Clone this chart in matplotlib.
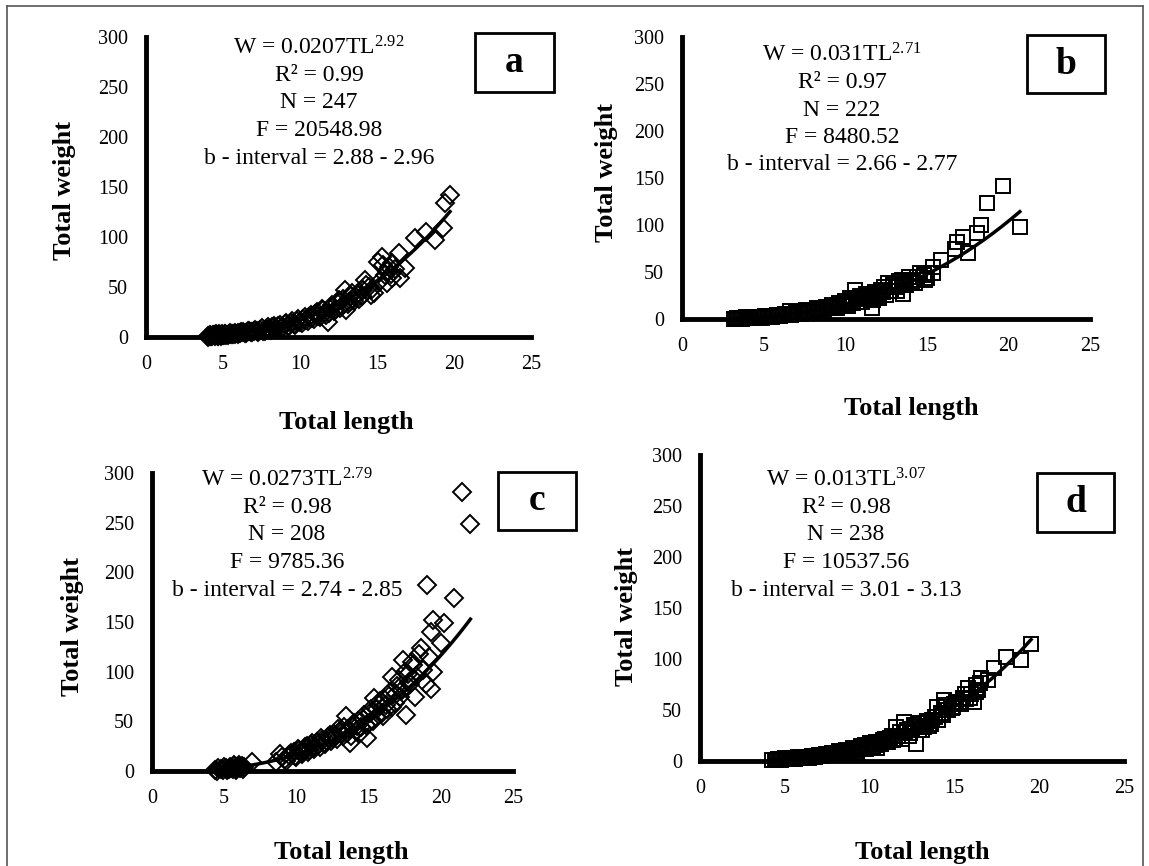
import matplotlib
matplotlib.use('Agg')
import matplotlib.pyplot as plt
from matplotlib.patches import Rectangle
from matplotlib.lines import Line2D
import numpy as np

plt.rcParams['font.family'] = ['Liberation Serif', 'DejaVu Serif']
plt.rcParams['mathtext.fontset'] = 'custom'
plt.rcParams['mathtext.rm'] = 'Liberation Serif'
plt.rcParams['mathtext.it'] = 'Liberation Serif:italic'
plt.rcParams['mathtext.bf'] = 'Liberation Serif:bold'

# ---------------- data ----------------
panel_labels = ['a', 'b', 'c', 'd']
coef_a = [0.0207, 0.031, 0.0273, 0.013]
coef_b = [2.92, 2.71, 2.79, 3.07]
r2_vals = [0.99, 0.97, 0.98, 0.98]
n_vals = [247, 222, 208, 238]
f_vals = [20548.98, 8480.52, 9785.36, 10537.56]
b_low = [2.88, 2.66, 2.74, 3.01]
b_high = [2.96, 2.77, 2.85, 3.13]
x_ticks = [0, 5, 10, 15, 20, 25]
y_ticks = [0, 50, 100, 150, 200, 250, 300]
x_label = 'Total length'
y_label = 'Total weight'

len_a = [4.0, 4.1, 4.2, 4.3, 4.4, 4.5, 4.6, 4.7, 4.8, 4.9, 5.0, 5.1, 5.2, 5.4, 5.5, 5.6, 5.8, 6.0, 6.1, 6.3,
         6.5, 6.7, 6.9, 7.0, 7.2, 7.4, 7.6, 7.8, 8.0, 8.2, 8.4, 8.6, 8.8, 9.0, 9.2, 9.4, 9.6, 9.8, 10.0, 10.2,
         10.4, 10.6, 10.8, 11.0, 11.2, 11.4, 11.6, 11.8, 11.9, 12.1, 12.3, 12.5, 12.7, 12.9, 13.0, 13.2, 13.4,
         13.6, 13.8, 14.1, 14.2, 14.45, 14.6, 14.8, 15.05, 15.3, 15.5, 15.65, 15.65, 15.8, 16.0, 16.0, 16.4,
         16.5, 16.85, 17.45, 18.2, 18.77, 19.26, 19.4, 19.74,
         4.05, 4.15, 4.25, 4.35, 4.45, 4.55, 4.65, 4.75, 4.85, 4.95, 5.05, 5.15, 5.3, 5.45, 5.65, 5.75, 5.95,
         6.2, 6.4, 6.6, 6.8, 7.1, 7.3, 7.5, 7.7, 7.9, 8.1, 8.3, 8.5, 8.7, 8.9, 9.1, 9.3, 9.5, 9.7, 9.9, 10.1,
         10.3, 10.5, 10.7, 10.9, 11.1, 11.3, 11.5, 11.7, 12.0, 12.2, 12.4, 12.6, 12.8, 13.1, 13.3, 13.5, 13.7,
         14.0, 14.3, 14.7, 15.1, 15.4, 15.9, 16.2]
wt_a = [1.0, 1.3, 1.5, 1.2, 1.8, 1.6, 2.0, 1.4, 2.2, 2.5, 2.0, 2.8, 2.4, 3.0, 2.6, 3.5, 3.2, 4.2, 3.6, 4.8,
        4.4, 5.6, 5.0, 6.5, 6.0, 7.2, 6.4, 8.5, 7.6, 9.8, 9.0, 11.0, 10.2, 12.8, 11.5, 14.5, 13.0, 16.0, 15.0, 18.5,
        16.8, 20.5, 19.0, 23.5, 21.0, 28.0, 24.5, 15.0, 24.0, 32.0, 27.5, 37.0, 31.0, 47.0, 27.0, 35.0, 44.0,
        40.0, 38.0, 47.0, 57.0, 50.0, 42.0, 44.0, 75.0, 80.0, 62.0, 66.0, 54.0, 70.0, 74.0, 59.0, 84.0,
        59.0, 69.0, 99.0, 105.0, 97.0, 109.0, 134.0, 142.0,
        0.3, 2.2, 0.8, 2.5, 1.0, 2.8, 1.2, 3.0, 1.5, 3.2, 1.8, 3.5, 2.0, 3.8, 2.6, 4.4, 3.0,
        5.0, 3.8, 6.0, 4.6, 7.5, 5.2, 8.6, 6.2, 9.8, 7.4, 11.2, 8.5, 12.5, 10.0, 14.2, 11.0, 15.8, 12.4, 18.0, 14.0,
        20.0, 16.0, 22.5, 18.0, 25.0, 20.0, 27.0, 22.0, 30.0, 26.0, 34.0, 29.0, 38.0, 33.0, 41.0, 36.0, 43.0,
        41.0, 52.0, 48.0, 55.0, 72.0, 63.0, 68.0]

len_b = [3.2, 3.4, 3.6, 3.8, 4.0, 4.2, 4.4, 4.6, 4.8, 5.0, 5.3, 5.6, 5.9, 6.2, 6.5, 6.6, 6.8, 7.1, 7.4, 7.6,
         7.8, 8.1, 8.3, 8.6, 8.8, 9.0, 9.2, 9.4, 9.6, 9.8, 10.0, 10.1, 10.3, 10.5, 10.6, 10.7, 10.9, 11.1, 11.3,
         11.5, 11.64, 11.8, 12.0, 12.2, 12.4, 12.65, 12.8, 13.1, 13.3, 13.45, 13.55, 13.7, 13.9, 14.1, 14.3,
         14.6, 14.9, 15.0, 15.4, 15.4, 15.9, 16.7, 16.86, 17.2, 17.5, 18.1, 18.3, 18.67, 19.69, 20.7,
         3.3, 3.5, 3.7, 3.9, 4.1, 4.3, 4.5, 4.7, 4.9, 5.1, 5.5, 5.8, 6.0, 6.3, 6.7, 7.0, 7.3, 7.7, 8.0, 8.4,
         8.7, 9.1, 9.5, 9.9, 10.2, 10.4, 10.8, 11.0, 11.4, 11.7, 11.9, 12.1, 12.3, 12.5, 12.9, 13.2, 13.6,
         14.0, 14.4, 14.8]
wt_b = [0.5, 0.7, 0.9, 1.0, 1.2, 1.5, 1.7, 2.0, 2.2, 2.5, 2.9, 3.3, 3.8, 4.3, 5.0, 8.0, 5.5, 6.5, 7.3, 9.5,
        8.0, 9.0, 11.5, 10.5, 13.0, 11.5, 15.0, 13.0, 17.0, 14.5, 19.0, 16.0, 22.0, 17.5, 31.0, 18.0, 24.0, 21.0, 27.0,
        22.0, 11.6, 29.0, 25.0, 31.0, 34.0, 38.0, 30.0, 34.0, 40.0, 41.0, 27.0, 36.0, 45.0, 40.0, 38.0,
        49.0, 41.0, 44.0, 55.6, 49.0, 63.0, 75.0, 82.0, 87.5, 70.0, 91.0, 100.0, 123.0, 141.5, 98.0,
        0.3, 1.5, 0.5, 2.0, 0.8, 2.3, 1.0, 2.6, 1.5, 3.0, 2.0, 4.0, 3.0, 5.2, 4.0, 7.0, 5.5, 8.5, 7.0, 10.0,
        9.0, 13.0, 12.0, 17.0, 14.0, 20.0, 22.0, 18.0, 25.0, 20.0, 27.0, 22.0, 29.0, 26.0, 36.0, 30.0, 38.0,
        42.0, 45.0, 47.0]

len_c = [4.35, 4.6, 4.9, 5.1, 5.3, 5.4, 5.6, 5.7, 5.8, 5.9, 6.0, 6.1, 6.2, 6.4, 6.9, 8.6, 8.84, 9.2, 9.5, 9.8,
         10.0, 10.2, 10.4, 10.6, 10.8, 11.0, 11.2, 11.4, 11.6, 11.8, 12.0, 12.2, 12.4, 12.6, 12.8, 13.0, 13.2,
         13.45, 13.5, 13.7, 13.9, 14.1, 14.3, 14.5, 14.7, 14.87, 15.0, 15.2, 15.38, 15.5, 15.7, 15.9, 16.1, 16.3,
         16.5, 16.65, 16.8, 17.0, 17.2, 17.4, 17.56, 17.7, 17.9, 18.07, 18.2, 18.6, 18.97, 19.05, 19.2, 19.35,
         19.35, 19.48, 19.48, 20.0, 20.25, 20.9, 21.48, 22.05,
         4.5, 4.8, 5.0, 5.2, 5.5, 5.65, 5.85, 6.05, 6.3, 9.0, 9.3, 9.6, 9.9, 10.1, 10.3, 10.5, 10.7, 10.9,
         11.1, 11.3, 11.5, 11.7, 11.9, 12.1, 12.3, 12.5, 12.7, 12.9, 13.1, 13.3, 13.6, 13.8, 14.0, 14.2, 14.4,
         14.6, 14.8, 15.1, 15.3, 15.6, 15.8, 16.0, 16.2, 16.4, 16.6, 16.9, 17.1, 17.3, 17.5, 17.8, 18.0, 18.3,
         18.5, 18.8]
wt_c = [1.0, 3.0, 1.5, 3.5, 2.0, 4.0, 2.5, 5.0, 3.0, 4.5, 6.0, 3.5, 5.5, 4.0, 9.0, 9.0, 17.0, 12.0, 16.0, 19.0,
        14.0, 21.0, 17.0, 24.0, 19.0, 26.0, 22.0, 29.0, 24.0, 31.0, 27.0, 34.0, 30.0, 37.0, 32.0, 40.0, 35.0,
        55.0, 38.0, 28.0, 45.0, 40.0, 50.0, 44.0, 56.0, 33.0, 48.0, 62.0, 73.5, 54.0, 66.0, 58.0, 72.0, 62.0,
        80.0, 95.0, 68.0, 86.0, 75.0, 112.0, 56.0, 98.0, 88.0, 106.7, 75.0, 123.5, 88.0, 187.0, 115.0, 140.0,
        83.0, 152.0, 100.0, 128.6, 148.7, 174.0, 280.6, 248.7,
        0.5, 2.5, 4.0, 1.0, 3.0, 6.0, 1.5, 4.0, 2.0, 14.0, 10.0, 18.0, 15.0, 22.0, 18.0, 20.0, 25.0, 21.0,
        28.0, 24.0, 26.0, 33.0, 28.0, 30.0, 36.0, 33.0, 35.0, 42.0, 38.0, 44.0, 42.0, 35.0, 48.0, 45.0, 38.0,
        52.0, 46.0, 58.0, 50.0, 62.0, 70.0, 55.0, 66.0, 76.0, 64.0, 78.0, 92.0, 82.0, 100.0, 90.0, 110.0, 96.0,
        118.0, 102.0]

len_d = [4.24, 4.5, 4.7, 4.9, 5.1, 5.3, 5.5, 5.7, 5.9, 6.1, 6.3, 6.5, 6.7, 6.9, 7.1, 7.3, 7.5, 7.7, 7.9, 8.1,
         8.3, 8.5, 8.7, 8.9, 9.26, 9.4, 9.7, 9.9, 10.1, 10.3, 10.46, 10.6, 10.8, 11.0, 11.2, 11.4, 11.56, 11.7,
         11.9, 12.0, 12.1, 12.3, 12.5, 12.6, 12.76, 12.9, 13.0, 13.2, 13.4, 13.6, 13.85, 13.96, 14.06, 14.2,
         14.4, 14.6, 14.83, 15.0, 15.27, 15.5, 15.7, 15.8, 16.0, 16.14, 16.25, 16.4, 16.57, 17.0, 17.33,
         18.06, 18.93, 19.52,
         4.4, 4.6, 4.8, 5.0, 5.2, 5.4, 5.6, 5.8, 6.0, 6.2, 6.4, 6.6, 6.8, 7.0, 7.2, 7.4, 7.6, 7.8, 8.0, 8.2,
         8.4, 8.6, 8.8, 9.0, 9.2, 9.5, 9.8, 10.0, 10.2, 10.4, 10.7, 10.9, 11.1, 11.3, 11.5, 11.8, 12.2, 12.4,
         12.7, 13.1, 13.3, 13.5, 13.7, 14.3, 14.5, 14.9, 15.1, 15.4, 15.6, 15.9, 16.3, 16.5]
wt_d = [1.0, 1.2, 1.5, 1.8, 2.0, 2.3, 2.5, 2.9, 3.2, 3.5, 3.9, 4.3, 4.7, 5.0, 5.6, 6.0, 6.6, 7.0, 7.6, 8.2,
        8.5, 9.5, 10.0, 10.8, 9.0, 13.0, 15.7, 14.0, 17.0, 15.5, 12.4, 19.0, 20.5, 18.5, 23.0, 21.0, 33.6, 25.0,
        22.0, 38.5, 28.0, 25.0, 31.0, 35.0, 17.0, 30.0, 37.0, 33.6, 39.0, 36.0, 43.0, 53.0, 40.0, 47.0,
        60.0, 50.0, 51.6, 56.0, 58.0, 62.0, 61.0, 71.5, 66.0, 58.0, 74.5, 70.0, 81.0, 79.0, 91.0,
        102.0, 99.0, 114.7,
        0.5, 2.0, 1.0, 2.5, 1.5, 3.0, 2.0, 3.6, 2.6, 4.2, 3.2, 5.0, 4.0, 6.2, 4.8, 7.2, 6.0, 8.2, 6.8, 9.4,
        7.8, 11.0, 9.0, 12.5, 11.0, 14.5, 12.0, 17.5, 14.0, 19.0, 16.5, 22.0, 19.0, 25.0, 22.0, 28.0, 30.0, 27.0,
        33.0, 30.0, 37.0, 34.0, 40.0, 45.0, 55.0, 53.0, 58.0, 56.0, 66.0, 62.0, 68.0, 76.0]

lengths = [len_a, len_b, len_c, len_d]
weights = [wt_a, wt_b, wt_c, wt_d]
markers = ['D', 's', 'D', 's']

# ---------------- layout (pixels) ----------------
W, H = 1149, 866
fig = plt.figure(figsize=(W / 100, H / 100), dpi=100)

def fx(x):
    return x / W

def fy(y):
    return 1 - y / H

# axes: left px (x=0), right px (x=25), top px (y=300), bottom px (y=0)
axes_px = [(146, 531, 37, 337), (682, 1090, 37, 319), (152, 513, 473, 771), (700, 1124, 455, 761)]
text_px = [(319, 48), (842, 55), (287, 480), (846, 480)]
ylab_px = [(65, 190), (607, 173), (72, 627), (626, 617)]
xlab_px = [(346, 422), (911, 408), (341, 852), (922, 852)]
box_px = [(475, 33, 554, 92), (1027, 35, 1105, 93), (498, 472, 576, 530), (1037, 473, 1114, 532)]
line_step = 27.5

# outer frame
for (x0, y0, x1, y1) in [(7, 6, 7, 866), (7, 6, 1143, 6), (1143, 6, 1143, 866)]:
    fig.add_artist(Line2D([fx(x0), fx(x1)], [fy(y0), fy(y1)], color='#555555', lw=1.2))

for i in range(4):
    l, r, t, b = axes_px[i]
    ax = fig.add_axes([fx(l), fy(b), (r - l) / W, (b - t) / H])
    ax.set_xlim(0, 25)
    ax.set_ylim(0, 300)
    ax.set_xticks(x_ticks)
    ax.set_yticks(y_ticks)
    ax.spines['top'].set_visible(False)
    ax.spines['right'].set_visible(False)
    for s in ['left', 'bottom']:
        ax.spines[s].set_linewidth(3.5)
        ax.spines[s].set_color('black')
    ax.tick_params(axis='both', length=0, labelsize=14.5)
    ax.tick_params(axis='y', pad=13)
    ax.tick_params(axis='x', pad=13)
    ax.patch.set_alpha(0)

    L = np.array(lengths[i])
    Wt = np.array(weights[i])
    ms = 9.2 if markers[i] == 'D' else 10
    ax.plot(L, Wt, linestyle='none', marker=markers[i], ms=ms, mfc='none', mec='black',
            mew=1.4, clip_on=False, zorder=3)
    xs = np.linspace(L.min(), L.max(), 200)
    ax.plot(xs, coef_a[i] * xs ** coef_b[i], color='black', lw=2.5, zorder=4, clip_on=False)

    # annotation
    cx, cy = text_px[i]
    lines = [
        'W = %sTL$^{%s}$' % (str(coef_a[i]), str(coef_b[i])),
        'R² = %.2f' % r2_vals[i],
        'N = %d' % n_vals[i],
        'F = %.2f' % f_vals[i],
        'b - interval = %.2f - %.2f' % (b_low[i], b_high[i]),
    ]
    for k, s in enumerate(lines):
        fig.text(fx(cx), fy(cy + k * line_step), s, ha='center', va='center', fontsize=17)

    # axis labels
    fig.text(fx(ylab_px[i][0]), fy(ylab_px[i][1]), y_label, rotation=90, ha='center', va='center',
             fontsize=19, fontweight='bold')
    fig.text(fx(xlab_px[i][0]), fy(xlab_px[i][1]), x_label, ha='center', va='center',
             fontsize=19, fontweight='bold')

    # panel letter box
    bx0, by0, bx1, by1 = box_px[i]
    fig.add_artist(Rectangle((fx(bx0), fy(by1)), (bx1 - bx0) / W, (by1 - by0) / H,
                             transform=fig.transFigure, fill=False, ec='black', lw=2.0))
    fig.text(fx((bx0 + bx1) / 2), fy((by0 + by1) / 2), panel_labels[i], ha='center', va='center',
             fontsize=27, fontweight='bold')

fig.savefig('out.png', dpi=100, facecolor='white')
